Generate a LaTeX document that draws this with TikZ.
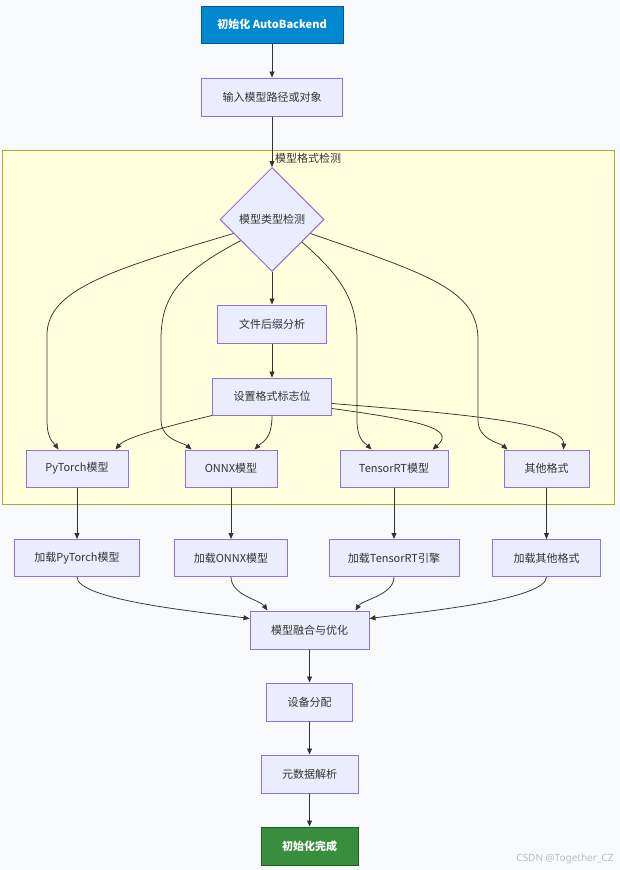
\documentclass[tikz,border=0pt]{standalone}
\usepackage{fontspec}
\setmainfont{Noto Sans CJK SC}
\newfontfamily\wmfont{Noto Sans}
\usetikzlibrary{shapes.geometric,arrows.meta}
\definecolor{bgc}{HTML}{F8F9FB}
\definecolor{nodefill}{HTML}{ECECFF}
\definecolor{nodestroke}{HTML}{9370DB}
\definecolor{clfill}{HTML}{FFFFDE}
\definecolor{clstroke}{HTML}{AAAA33}
\definecolor{startfill}{HTML}{0288D1}
\definecolor{startstroke}{HTML}{01579B}
\definecolor{endfill}{HTML}{388E3C}
\definecolor{endstroke}{HTML}{1B5E20}
\definecolor{txt}{HTML}{333333}
\definecolor{edgec}{HTML}{333333}
\tikzset{
  box/.style={draw=nodestroke, fill=nodefill, line width=1pt, minimum height=38pt,
    inner sep=0pt, text=txt, font=\fontsize{11}{13}\selectfont},
  startbox/.style={box, draw=startstroke, fill=startfill, text=white, font=\fontsize{11}{13}\selectfont\bfseries},
  endbox/.style={box, draw=endstroke, fill=endfill, text=white, font=\fontsize{11}{13}\selectfont\bfseries},
  decbox/.style={box, diamond, aspect=1, minimum size=104pt},
  edge/.style={draw=edgec, line width=0.75pt, -{Triangle[length=6pt,width=5pt]}},
}
\begin{document}
\begin{tikzpicture}[x=1pt,y=1pt]
\fill[bgc] (0,0) rectangle (620,-870);
\useasboundingbox (0,0) rectangle (620,-870);
% cluster
\draw[fill=clfill, draw=clstroke, line width=1pt] (2,-150) rectangle (614,-504);
\node[text=txt, font=\fontsize{11}{13}\selectfont] (cl) at (308,-158) {模型格式检测};
% nodes
\node[startbox, minimum width=142pt, minimum height=37pt] (start) at (272,-24.5) {初始化 AutoBackend};
\node[box, minimum width=141pt] (inp) at (272,-97) {输入模型路径或对象};
\node[decbox] (d) at (272,-219.5) {模型类型检测};
\node[box, minimum width=109pt] (fs) at (272,-324) {文件后缀分析};
\node[box, minimum width=119pt, minimum height=37pt] (flag) at (272,-396.5) {设置格式标志位};
\node[box, minimum width=102pt, minimum height=37pt] (pt) at (77,-468.5) {PyTorch模型};
\node[box, minimum width=92pt, minimum height=37pt] (onnx) at (231,-468.5) {ONNX模型};
\node[box, minimum width=108pt, minimum height=37pt] (trt) at (394,-468.5) {TensorRT模型};
\node[box, minimum width=85pt, minimum height=37pt] (oth) at (546.5,-468.5) {其他格式};
\node[box, minimum width=125pt, minimum height=37pt] (lpt) at (77,-558) {加载PyTorch模型};
\node[box, minimum width=113pt, minimum height=37pt] (lonnx) at (231,-558) {加载ONNX模型};
\node[box, minimum width=130pt, minimum height=37pt] (ltrt) at (394,-558) {加载TensorRT引擎};
\node[box, minimum width=108pt, minimum height=37pt] (loth) at (546.5,-558) {加载其他格式};
\node[box, minimum width=119pt] (fuse) at (309.5,-630) {模型融合与优化};
\node[box, minimum width=86pt] (dev) at (309.5,-702) {设备分配};
\node[box, minimum width=97pt] (meta) at (309.5,-774) {元数据解析};
\node[endbox, minimum width=97pt] (end) at (309.5,-846) {初始化完成};
\node[anchor=east, text={rgb,255:red,190;green,190;blue,190}, font=\wmfont\fontsize{10}{11}\selectfont] (wm) at (617,-859) {CSDN @Together\_CZ};
% edges
\draw[edge] (start) -- (inp);
\draw[edge] (inp) -- (d.north);
\draw[edge] (d) -- (fs);
\draw[edge] (fs) -- (flag);
\draw[edge] (d.200) .. controls (110,-270) and (47,-290) .. (47,-335) -- (47,-420)
   .. controls (47,-440) and (54,-443) .. ([xshift=33pt]pt.north west);
\draw[edge] (d.214) .. controls (175,-275) and (161,-300) .. (161,-340) -- (161,-420)
   .. controls (161,-440) and (184,-443) .. ([xshift=7pt]onnx.north west);
\draw[edge] (d.-37) .. controls (340,-275) and (357,-300) .. (357,-340) -- (357,-420)
   .. controls (357,-440) and (365,-443) .. ([xshift=32pt]trt.north west);
\draw[edge] (d.-20) .. controls (430,-275) and (478,-290) .. (478,-340) -- (478,-420)
   .. controls (478,-440) and (500,-443) .. ([xshift=4pt]oth.north west);
\draw[edge] (flag.south west) .. controls (160,-428) and (125,-438) .. ([xshift=-13pt]pt.north east);
\draw[edge] (flag.south) .. controls (272,-440) and (262,-442) .. ([xshift=-23pt]onnx.north east);
\draw[edge] ([yshift=7pt]flag.south east) .. controls (415,-420) and (458,-428) .. ([xshift=-16pt]trt.north east);
\draw[edge] ([yshift=12pt]flag.south east) .. controls (450,-413) and (565,-422) .. ([xshift=-26pt]oth.north east);
\draw[edge] (pt) -- (lpt);
\draw[edge] (onnx) -- (lonnx);
\draw[edge] (trt) -- (ltrt);
\draw[edge] (oth) -- (loth);
\draw[edge] (lpt.south) .. controls (77,-600) and (200,-612) .. ([yshift=-8pt]fuse.north west);
\draw[edge] (lonnx.south) .. controls (231,-595) and (260,-600) .. ([xshift=18pt]fuse.north west);
\draw[edge] (ltrt.south) .. controls (394,-595) and (362,-600) .. ([xshift=-14pt]fuse.north east);
\draw[edge] (loth.south) .. controls (546,-600) and (420,-612) .. ([yshift=-8pt]fuse.north east);
\draw[edge] (fuse) -- (dev);
\draw[edge] (dev) -- (meta);
\draw[edge] (meta) -- (end);
\end{tikzpicture}
\end{document}
